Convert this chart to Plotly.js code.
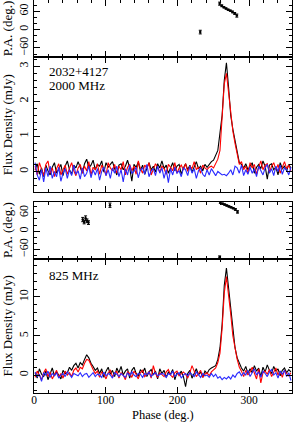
<!DOCTYPE html>
<html><head><meta charset="utf-8">
<script src="https://cdn.plot.ly/plotly-3.0.1.min.js"></script>
<style>html,body{margin:0;padding:0;background:#fff}#c{width:293px;height:422px}</style>
</head><body><div id="c"></div>
<script>
// Phase bins: 120 bins of 3 deg
const binWidth = 3;
const nBins = 120;
const phase = [];
for (let k = 0; k < nBins; k++) phase.push(binWidth * k + binWidth / 2);

// 2000 MHz: total intensity (black), linear (red), circular (blue)
const I2000 = [
 0.05,0.22,-0.08,0.10,-0.15,0.18,0.02,-0.10,0.12,0.25,
 -0.05,0.08,0.20,-0.12,0.15,0.30,0.05,-0.08,0.18,0.10,
 0.28,0.12,-0.05,0.22,0.35,0.10,0.18,0.32,0.05,0.20,
 0.15,0.30,-0.02,0.25,0.12,0.20,0.28,0.08,-0.10,0.18,
 0.22,0.05,0.15,0.32,0.10,-0.28,0.20,0.12,0.26,0.02,
 0.18,-0.08,0.12,0.25,0.05,0.15,-0.02,0.22,0.10,0.30,
 0.08,0.18,-0.05,0.12,0.25,0.02,0.15,0.20,-0.08,0.10,
 0.22,0.05,0.18,-0.02,0.12,0.28,0.08,0.15,0.02,0.20,
 0.12,0.20,0.28,0.32,0.45,0.60,1.10,1.60,2.60,3.10,
 2.40,1.60,1.20,0.85,0.50,0.25,0.20,0.10,0.22,0.05,
 0.15,0.25,-0.05,0.12,0.20,0.08,0.30,0.15,-0.22,0.18,
 0.22,0.05,0.12,-0.10,0.25,0.08,0.15,0.02,0.20,0.10];
const L2000 = [
 0.15,-0.10,0.25,0.05,-0.12,0.20,0.30,-0.05,0.10,-0.15,
 0.08,0.22,-0.10,0.05,0.18,-0.08,0.12,0.25,0.02,-0.12,
 0.10,0.20,-0.05,0.15,0.02,0.28,-0.10,0.12,0.05,0.22,
 -0.08,0.18,0.08,-0.12,0.25,0.10,0.02,0.20,-0.05,0.15,
 0.05,0.28,-0.10,0.12,0.20,0.02,0.15,-0.08,0.30,0.08,
 -0.05,0.18,0.10,0.25,-0.10,0.05,0.22,0.12,-0.02,0.15,
 0.08,-0.08,0.20,0.12,0.02,0.25,-0.05,0.10,0.18,0.05,
 0.22,0.00,0.15,0.08,0.28,0.05,0.12,-0.05,0.18,0.10,
 0.05,0.12,0.15,0.10,0.22,0.35,0.60,1.50,2.50,2.80,
 2.25,1.55,1.15,0.80,0.45,0.20,0.28,0.05,0.15,-0.05,
 0.25,0.10,0.20,-0.08,0.12,0.30,0.05,0.18,0.22,-0.02,
 0.15,0.25,0.05,0.20,-0.05,0.12,0.28,0.08,0.18,0.02];
const V2000 = [
 0.25,-0.10,-0.25,0.05,-0.30,0.10,-0.15,0.15,-0.20,0.00,
 -0.15,0.12,-0.28,-0.05,0.08,-0.20,0.05,-0.12,0.18,-0.08,
 0.02,-0.22,0.10,-0.15,-0.05,0.15,-0.18,0.05,-0.10,0.08,
 -0.25,0.00,0.12,-0.12,0.05,-0.20,0.10,-0.05,0.15,-0.15,
 0.05,-0.30,0.08,-0.10,0.18,-0.05,0.00,0.12,-0.18,0.05,
 0.10,-0.08,0.20,-0.15,0.02,0.08,-0.12,0.15,-0.05,0.10,
 -0.20,0.05,-0.32,0.08,-0.10,0.12,-0.05,0.02,-0.15,0.10,
 0.05,-0.12,0.15,-0.05,0.08,-0.20,0.02,0.10,-0.08,-0.15,
 0.05,-0.10,0.08,-0.02,-0.12,0.00,-0.05,-0.10,-0.08,-0.12,
 -0.05,0.05,-0.10,0.15,0.10,-0.05,0.18,-0.12,0.05,-0.08,
 0.12,-0.05,0.08,-0.15,0.15,0.02,-0.10,0.10,0.20,-0.05,
 0.08,-0.12,0.15,0.00,0.18,-0.08,0.10,0.05,-0.10,0.12];

// 825 MHz
const I825 = [
 0.3,-0.4,0.8,0.1,-0.2,0.5,-0.6,0.2,0.9,-0.1,
 0.4,0.0,-0.5,0.6,0.2,0.3,1.0,0.6,1.2,1.5,
 0.9,1.6,1.3,2.0,2.6,2.2,1.5,1.1,0.6,0.9,
 0.2,0.8,-0.3,0.5,1.0,0.1,0.6,-0.2,0.9,0.3,
 1.1,0.0,0.5,0.8,-0.4,0.6,1.0,0.2,-0.1,0.7,
 0.3,0.9,-0.2,0.4,0.7,0.0,0.5,-0.5,0.8,0.2,
 0.6,-0.3,0.4,0.1,0.7,-0.6,0.3,0.0,0.5,-0.2,
 -1.5,0.2,0.6,-0.4,0.3,0.8,0.0,0.4,-0.3,0.5,
 0.2,0.7,0.9,1.0,1.2,2.0,3.5,6.5,11.5,13.7,
 11.0,8.3,5.5,3.5,2.2,1.5,0.9,0.5,1.1,0.2,
 0.8,0.3,1.2,0.5,0.9,-0.2,1.0,0.4,1.3,0.6,
 0.2,1.1,0.5,0.8,-0.1,0.6,0.9,0.3,0.7,0.4];
const L825 = [
 -0.3,0.5,0.0,-0.6,0.3,0.8,-0.2,0.4,-0.5,0.1,
 0.6,-0.3,0.2,-0.4,0.5,0.0,0.3,-0.2,0.6,0.9,
 0.4,1.0,0.8,1.5,2.0,1.9,1.2,0.7,0.2,0.5,
 -0.3,0.4,0.1,-0.5,0.3,0.6,-0.2,0.2,0.5,-0.4,
 0.3,0.0,-0.6,0.4,0.2,-0.3,0.5,0.1,-0.5,0.3,
 0.6,-0.2,0.1,0.4,-0.4,1.2,0.2,-0.3,0.3,0.0,
 -0.2,0.4,0.7,0.0,-0.3,0.3,0.5,-0.1,0.2,0.4,
 0.1,-0.4,0.3,1.2,0.5,-0.2,0.2,0.6,-0.3,0.1,
 0.3,-0.1,0.4,0.6,0.9,1.6,2.8,6.0,10.5,12.6,
 10.5,7.8,5.0,3.2,2.0,1.0,0.5,-0.2,0.6,0.0,
 0.4,1.0,0.2,-0.5,0.8,-1.0,0.3,0.5,0.1,0.7,
 -0.2,0.4,0.9,0.0,0.5,-0.3,0.6,0.2,-0.1,0.3];
const V825 = [
 0.4,-0.2,0.1,-0.8,0.3,0.0,0.5,-0.3,0.2,-0.1,
 0.3,-0.4,0.0,0.2,-0.2,0.4,0.1,-0.3,0.2,0.0,
 -0.1,0.3,-0.2,0.1,0.2,-0.3,0.0,0.3,-0.2,0.1,
 0.0,-0.3,0.4,-0.1,0.2,0.0,-0.4,0.3,0.1,-0.2,
 0.2,0.0,-0.3,0.3,-0.1,0.4,0.0,-0.2,0.2,0.1,
 -0.3,0.2,0.0,0.4,-0.2,0.1,0.3,-0.1,0.0,0.2,
 0.1,-0.3,0.2,0.0,0.5,-0.2,0.1,0.3,-0.4,0.0,
 0.2,-0.1,0.3,0.0,-0.2,0.4,0.1,-0.3,0.2,-0.1,
 0.0,-0.3,0.2,-0.2,0.1,-0.4,-0.2,-0.6,-0.3,-0.5,
 -0.2,-0.5,0.0,-0.3,0.2,0.4,-0.1,0.3,0.0,0.6,
 -0.2,0.3,0.8,0.0,0.4,-0.3,0.5,0.2,-0.2,0.4,
 0.7,0.0,0.3,-0.4,0.5,0.1,0.6,-0.2,0.3,-0.7];

// Position angles, 2000 MHz
const paPhase2000 = [232, 259, 262, 265, 268, 271, 274, 277, 280, 283];
const pa2000      = [-8, 85, 78, 73, 69, 65, 62, 58, 53, 46];
const paErr2000   = [6, 5, 3, 2, 2, 2, 2, 3, 3, 5];
// Position angles, 825 MHz
const paPhase825 = [68, 70, 72, 74, 76, 106, 259, 260, 263, 266, 269, 272, 275, 278, 281, 284];
const pa825      = [38, 30, 42, 34, 28, 85, -85, 94, 90, 87, 84, 81, 78, 75, 71, 63];
const paErr825   = [7, 6, 8, 6, 6, 7, 4, 3, 2, 2, 2, 2, 2, 2, 3, 4];

const serif = "Liberation Serif, Times New Roman, serif";
const BLUE = "#2a2aff";

function line(x, y, color, xa, ya) {
  return {x, y, type: "scatter", mode: "lines", xaxis: xa, yaxis: ya,
          line: {color, width: 1.1}, hoverinfo: "skip", showlegend: false};
}
function pa(x, y, e, xa, ya) {
  return {x, y, type: "scatter", mode: "markers", xaxis: xa, yaxis: ya,
          marker: {color: "black", size: 2.5},
          error_y: {type: "data", array: e, color: "black", thickness: 1, width: 1.5},
          hoverinfo: "skip", showlegend: false};
}

const data = [
  pa(paPhase2000, pa2000, paErr2000, "x4", "y4"),
  line(phase, I2000, "black", "x3", "y3"),
  line(phase, L2000, "red", "x3", "y3"),
  line(phase, V2000, BLUE, "x3", "y3"),
  pa(paPhase825, pa825, paErr825, "x2", "y2"),
  line(phase, I825, "black", "x", "y"),
  line(phase, L825, "red", "x", "y"),
  line(phase, V825, BLUE, "x", "y")
];

function xax(anchor, labels) {
  return {anchor, range: [0, 360], matches: anchor === "y" ? undefined : "x",
    showline: true, linecolor: "black", linewidth: 1, mirror: "allticks",
    ticks: "inside", ticklen: 6, tickcolor: "black", dtick: 100, tick0: 0,
    minor: {dtick: 20, ticks: "inside", ticklen: 3, tickcolor: "black"},
    showgrid: false, zeroline: false, showticklabels: labels,
    tickfont: {family: serif, size: 11.5, color: "black"}};
}
function yax(anchor, domain, range, dtick, minor, title) {
  return {anchor, domain, range, dtick, tick0: 0,
    showline: true, linecolor: "black", linewidth: 1, mirror: "allticks",
    ticks: "inside", ticklen: 6, tickcolor: "black",
    minor: {dtick: minor, ticks: "inside", ticklen: 3, tickcolor: "black"},
    showgrid: false, zeroline: false, tickangle: -90,
    tickfont: {family: serif, size: 12, color: "black"},
    title: {text: title, font: {family: serif, size: 13, color: "black"}, standoff: 3}};
}

const layout = {
  width: 293, height: 422,
  margin: {l: 34, r: 1, t: 0, b: 29},
  paper_bgcolor: "white", plot_bgcolor: "white",
  xaxis: Object.assign(xax("y", true), {ticklabelstandoff: -4}),
  xaxis2: xax("y2", false),
  xaxis3: xax("y3", false),
  xaxis4: xax("y4", false),
  yaxis:  yax("x",  [0, 0.3418], [-2.3, 14.9], 5, 1, "Flux Density (mJy)"),
  yaxis2: yax("x2", [0.3418, 0.4872], [-90, 97], 60, 20, "P.A. (deg.)"),
  yaxis3: yax("x3", [0.5102, 0.8546], [-0.6, 3.26], 1, 0.2, "Flux Density (mJy)"),
  yaxis4: yax("x4", [0.8546, 1], [-90, 97], 60, 20, "P.A. (deg.)"),
  annotations: [
    {xref: "x", yref: "paper", x: 180, y: -0.0765, yanchor: "bottom", borderpad: 0, text: "Phase (deg.)", showarrow: false, font: {family: serif, size: 12.5, color: "black"}},
    {xref: "x3", yref: "y3", x: 18, y: 2.85, text: "2032+4127", showarrow: false, xanchor: "left", font: {family: serif, size: 13, color: "black"}},
    {xref: "x3", yref: "y3", x: 18, y: 2.45, text: "2000 MHz", showarrow: false, xanchor: "left", font: {family: serif, size: 13, color: "black"}},
    {xref: "x", yref: "y", x: 18, y: 12.7, text: "825 MHz", showarrow: false, xanchor: "left", font: {family: serif, size: 13, color: "black"}}
  ]
};

Plotly.newPlot("c", data, layout, {staticPlot: true, displayModeBar: false});
</script>
</body></html>
